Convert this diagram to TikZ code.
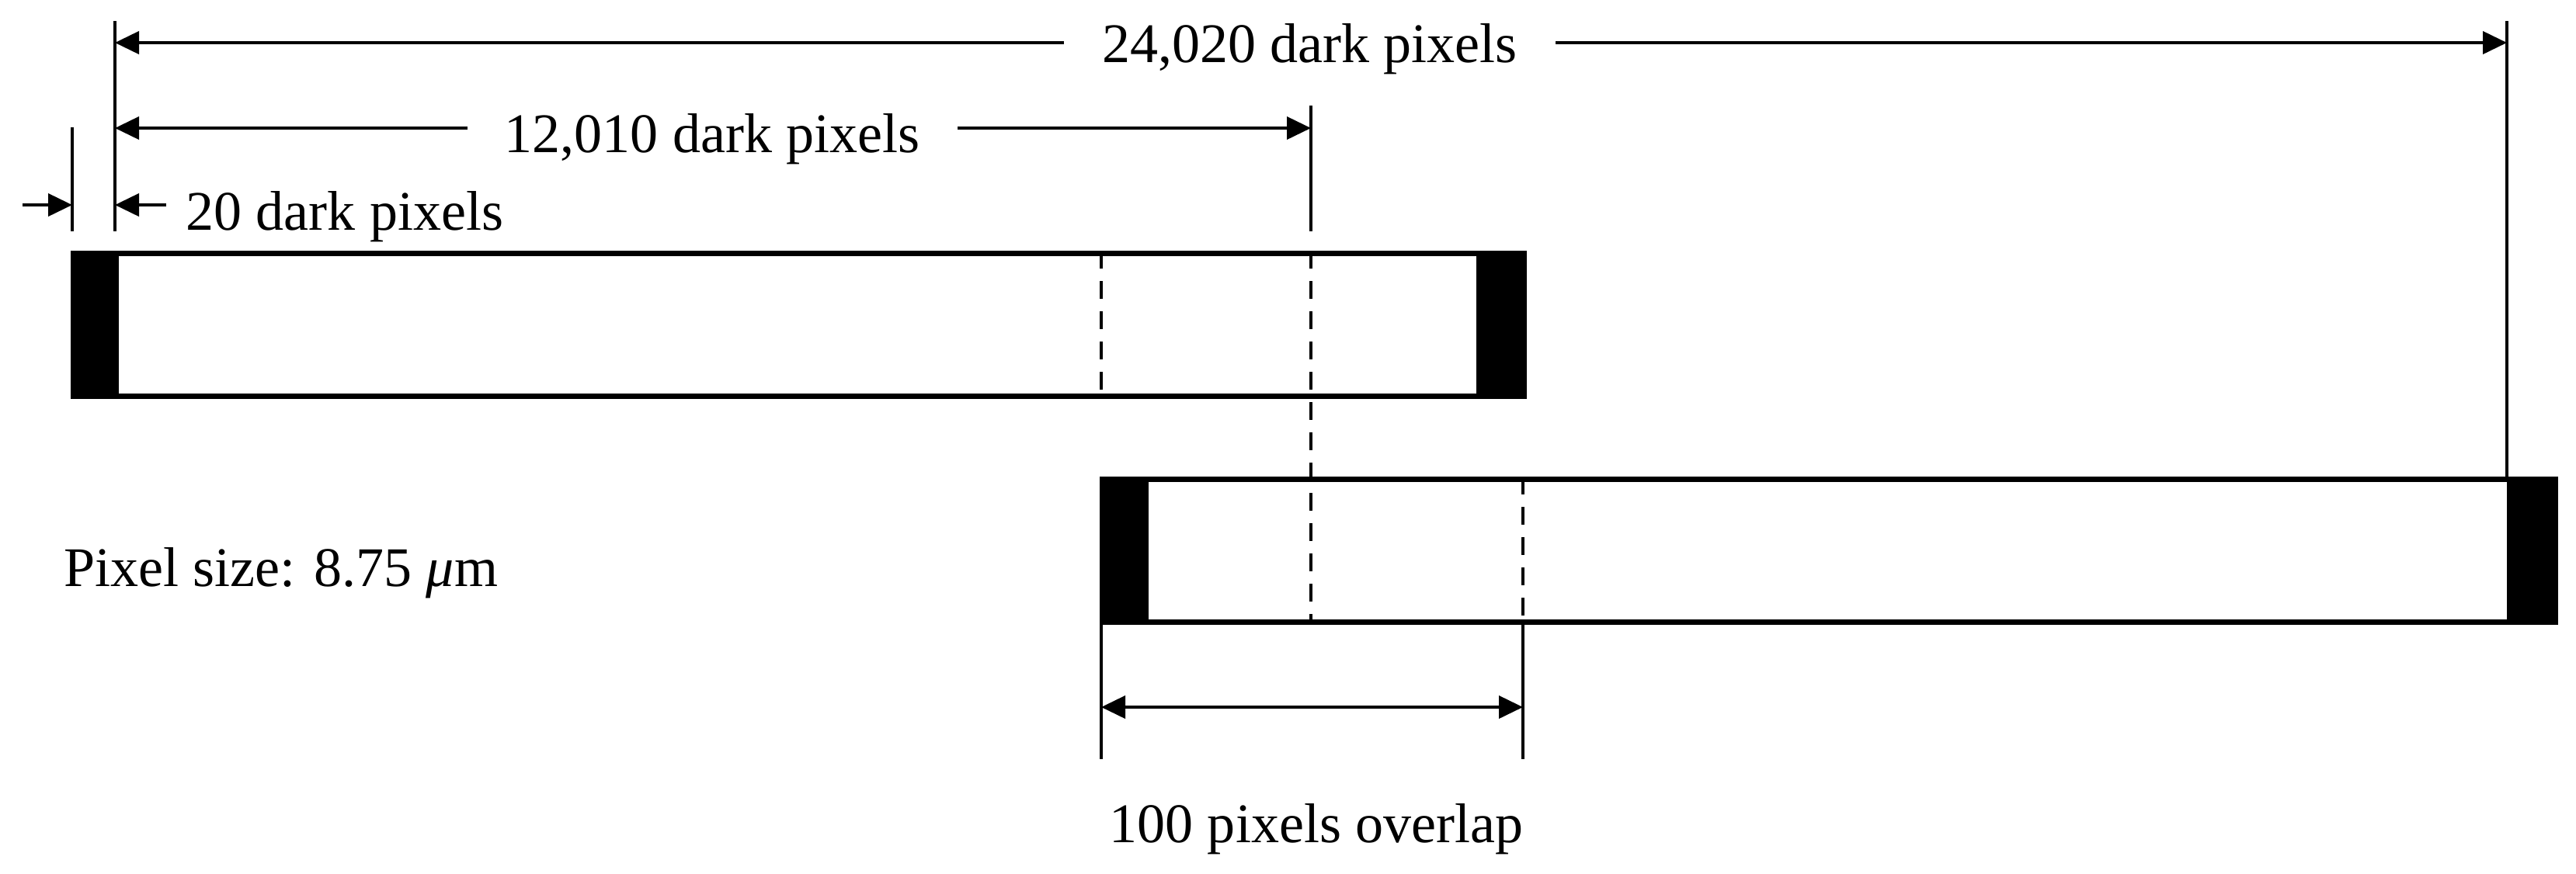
\documentclass[tikz,border=0pt]{standalone}
\usepackage{fontspec}
\setmainfont{Liberation Serif}
\usetikzlibrary{arrows.meta}
\begin{document}
\begin{tikzpicture}[x=1cm,y=1cm,
  lbl/.style={font=\fontsize{20.5}{24}\selectfont, inner sep=0pt},
  tick/.style={line width=0.04cm},
  dimarrow/.style={line width=0.04cm, -{Triangle[length=0.31cm,width=0.29cm]}},
  twoarrow/.style={line width=0.04cm, {Triangle[length=0.31cm,width=0.29cm]}-{Triangle[length=0.31cm,width=0.29cm]}},
  barline/.style={line width=0.07cm},
  cut/.style={line width=0.045cm, dash pattern=on 0.23cm off 0.16cm},
  dark/.style={fill=black}]
\useasboundingbox (0,0) rectangle (33.17,-11.25);

% ---- bars ----
\fill[dark] (0.91,-3.23) rectangle (1.53,-5.14);
\fill[dark] (19.01,-3.23) rectangle (19.66,-5.14);
\draw[barline] (0.945,-3.265) rectangle (19.625,-5.105);
\fill[dark] (14.16,-6.14) rectangle (14.79,-8.05);
\fill[dark] (32.28,-6.14) rectangle (32.94,-8.05);
\draw[barline] (14.195,-6.175) rectangle (32.905,-8.015);

% ---- coordinates ----
\coordinate (tLt) at (0.93,-1.64);  \coordinate (tLb) at (0.93,-2.98);
\coordinate (tAt) at (1.48,-0.27);  \coordinate (tAb) at (1.48,-2.98);
\coordinate (tBt) at (16.88,-1.36); \coordinate (tBb) at (16.88,-2.98);
\coordinate (tCt) at (32.28,-0.27); \coordinate (tCb) at (32.28,-6.20);
\coordinate (dAt) at (14.18,-3.23); \coordinate (dAb) at (14.18,-5.14);
\coordinate (dBt) at (16.88,-3.23); \coordinate (dBb) at (16.88,-8.05);
\coordinate (dCt) at (19.61,-6.14); \coordinate (dCb) at (19.61,-8.05);
\coordinate (oLt) at (14.18,-8.05); \coordinate (oLb) at (14.18,-9.78);
\coordinate (oRt) at (19.61,-8.05); \coordinate (oRb) at (19.61,-9.78);

% ---- ticks ----
\draw[tick] (tLt) -- (tLb);
\draw[tick] (tAt) -- (tAb);
\draw[tick] (tBt) -- (tBb);
\draw[tick] (tCt) -- (tCb);
\draw[tick] (oLt) -- (oLb);
\draw[tick] (oRt) -- (oRb);

% ---- dashed lines ----
\draw[cut] (dAt) -- (dAb);
\draw[cut] (dBt) -- (dBb);
\draw[cut] (dCt) -- (dCb);

% ---- labels ----
\node[lbl, anchor=base] (t24) at (16.865,-0.80) {24,020 dark pixels};
\node[lbl, anchor=base] (t12) at (9.17,-1.96) {12,010 dark pixels};
\node[lbl, anchor=base] (t20) at (4.44,-2.96) {20 dark pixels};
\node[lbl, anchor=base west] (tps) at (0.82,-7.55) {Pixel size: 8.75 {\itshape μ}m};
\node[lbl, anchor=base] (t100) at (16.95,-10.85) {100 pixels overlap};

% ---- arrow end coordinates ----
\coordinate (a24l) at (13.70,-0.55); \coordinate (a24r) at (20.03,-0.55);
\coordinate (a24L) at (1.48,-0.55);  \coordinate (a24R) at (32.28,-0.55);
\coordinate (a12l) at (6.02,-1.65);  \coordinate (a12r) at (12.33,-1.65);
\coordinate (a12L) at (1.48,-1.65);  \coordinate (a12R) at (16.88,-1.65);
\coordinate (a20a) at (0.29,-2.64);  \coordinate (a20A) at (0.93,-2.64);
\coordinate (a20b) at (2.14,-2.64);  \coordinate (a20B) at (1.48,-2.64);
\coordinate (ovL) at (14.18,-9.11);  \coordinate (ovR) at (19.61,-9.11);

\draw[dimarrow] (a24l) -- (a24L);
\draw[dimarrow] (a24r) -- (a24R);
\draw[dimarrow] (a12l) -- (a12L);
\draw[dimarrow] (a12r) -- (a12R);
\draw[dimarrow] (a20a) -- (a20A);
\draw[dimarrow] (a20b) -- (a20B);
\draw[twoarrow] (ovL) -- (ovR);
\end{tikzpicture}
\end{document}
